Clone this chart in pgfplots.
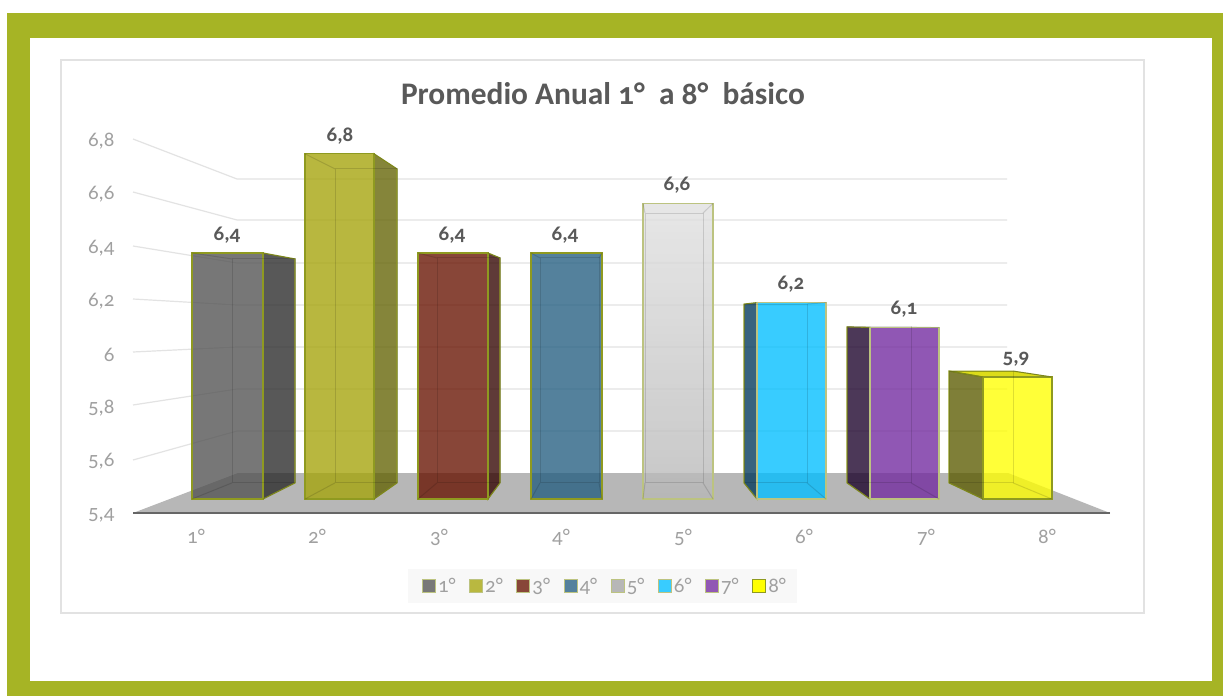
\documentclass[border=0pt]{standalone}
\usepackage{fontspec}
\setmainfont[Numbers=OldStyle]{Carlito}
\usepackage{pgfplots}
\pgfplotsset{compat=1.18}

\definecolor{framegreen}{HTML}{A6B425}
\definecolor{chartborder}{HTML}{E2E2E2}
\definecolor{gridc}{HTML}{E3E3E3}
\definecolor{floorc}{HTML}{B7B7B7}
\definecolor{axisdark}{HTML}{666666}
\definecolor{ticktext}{HTML}{A0A0A0}
\definecolor{labeltext}{HTML}{595959}
\definecolor{edgec}{HTML}{8F9A20}
\definecolor{edgelight}{HTML}{BCC380}
\definecolor{legbg}{HTML}{F8F8F8}
% fronts are drawn at opacity 0.78 so the floor shows through
\definecolor{c1}{RGB}{82,82,82}
\definecolor{c2}{RGB}{165,164,10}
\definecolor{c3}{RGB}{103,18,0}
\definecolor{c4}{RGB}{36,94,129}
\definecolor{c6}{RGB}{0,190,255}
\definecolor{c7}{RGB}{114,41,159}
\definecolor{c8}{RGB}{255,255,0}
\definecolor{s1}{RGB}{42,42,42}
\definecolor{s2}{RGB}{99,99,3}
\definecolor{s3}{RGB}{50,3,0}
\definecolor{s6}{RGB}{0,56,91}
\definecolor{s7}{RGB}{26,0,42}
\definecolor{s8}{RGB}{91,91,0}

% #1 fill options, #2 edge colour, #3 xL, #4 xR, #5 value, #6 back xL, #7 back xR, #8 back top
\newcommand{\barbox}[8]{
  \addplot[#1,fill opacity=0.78,draw=#2,line width=1.2bp,forget plot]
    coordinates {(#3,5.408) (#4,5.408) (#4,#5) (#3,#5)} --cycle;
  \addplot[draw=black,draw opacity=0.13,line width=1bp,forget plot]
    coordinates {(#6,5.473) (#7,5.473) (#7,#8) (#6,#8)} --cycle;
  \addplot[draw=black,draw opacity=0.13,line width=1bp,forget plot]
    coordinates {(#3,#5) (#6,#8)};
  \addplot[draw=black,draw opacity=0.13,line width=1bp,forget plot]
    coordinates {(#4,#5) (#7,#8)};
  \addplot[draw=black,draw opacity=0.13,line width=1bp,forget plot]
    coordinates {(#3,5.408) (#6,5.473)};
  \addplot[draw=black,draw opacity=0.13,line width=1bp,forget plot]
    coordinates {(#4,5.408) (#7,5.473)};
}
% #1 colour, #2 edge, #3 front x, #4 back x, #5 value, #6 back top
\newcommand{\sideface}[6]{
  \addplot[fill=#1,fill opacity=0.78,draw=#2,line width=1.1bp,forget plot]
    coordinates {(#3,5.408) (#4,5.473) (#4,#6) (#3,#5)} --cycle;
}

\begin{document}
\begin{tikzpicture}
% page, frame, floor and the perspective grid, in pixels of the picture
\begin{axis}[
    name=base,
    scale only axis,
    width=1223bp,
    height=696bp,
    xmin=0, xmax=1223,
    ymin=0, ymax=696,
    y dir=reverse,
    hide axis,
]
\addplot[fill=white,draw=none] coordinates {(0,0) (1223,0) (1223,696) (0,696)} --cycle;
\addplot[fill=framegreen,draw=none] coordinates {(7,13) (1223,13) (1223,696) (7,696)} --cycle;
\addplot[fill=white,draw=none] coordinates {(30,38) (1212,38) (1212,681) (30,681)} --cycle;
\addplot[draw=chartborder,line width=1.4bp] coordinates {(61,60) (1144,60) (1144,613) (61,613)} --cycle;
\addplot[fill=floorc,draw=none] coordinates {(133,513) (1110,513) (1008,473) (238,473)} --cycle;
\addplot[draw=gridc,line width=1.2bp] coordinates {(133,139) (237,179) (1007,179)};
\addplot[draw=gridc,line width=1.2bp] coordinates {(133,192) (237,220) (1007,220)};
\addplot[draw=gridc,line width=1.2bp] coordinates {(133,246) (237,263) (1007,263)};
\addplot[draw=gridc,line width=1.2bp] coordinates {(133,299) (237,305) (1007,305)};
\addplot[draw=gridc,line width=1.2bp] coordinates {(133,352) (237,347) (1007,347)};
\addplot[draw=gridc,line width=1.2bp] coordinates {(133,405) (237,389) (1007,389)};
\addplot[draw=gridc,line width=1.2bp] coordinates {(133,460) (237,431) (1007,431)};
\addplot[fill=legbg,draw=none] coordinates {(408,569) (797,569) (797,603) (408,603)} --cycle;
\end{axis}

% the axis that carries the tick labels
\begin{axis}[
    scale only axis,
    at={(133bp,183bp)},
    anchor=south west,
    width=977bp,
    height=374bp,
    xmin=133, xmax=1110,
    ymin=5.4, ymax=6.8,
    axis x line=bottom,
    axis y line=left,
    x axis line style={-,draw=axisdark,line width=2.6bp},
    y axis line style={-,draw=none},
    major tick length=0pt,
    xtick={196,317,439,561,683,804,926,1047},
    xticklabels={1°,2°,3°,4°,5°,6°,7°,8°},
    ytick={5.4,5.6,5.8,6,6.2,6.4,6.6,6.8},
    tick label style={font=\fontsize{21}{23}\selectfont,text=ticktext},
    xticklabel style={yshift=-13bp},
    yticklabel style={xshift=-15bp,yshift=-2bp},
    /pgf/number format/.cd,use comma,fixed,assume math mode=true,
]
\addplot[draw=none,forget plot] coordinates {(133,5.4) (1110,5.4)};
\end{axis}

% bars, with y in the chart's own values
\begin{axis}[
    scale only axis,
    at={(0bp,0bp)},
    anchor=south west,
    width=1223bp,
    height=696bp,
    xmin=0, xmax=1223,
    ymin=4.6137, ymax=7.4202,
    axis lines=none,
    legend style={
        at={(605bp,110bp)},
        anchor=center,
        draw=none,
        fill=none,
        font=\fontsize{21}{23}\selectfont\color{ticktext},
        legend columns=8,
        /tikz/every even column/.append style={column sep=11.5bp},
        inner sep=0pt,
    },
    legend image code/.code={\draw[#1,line width=1bp] (0bp,-6.5bp) rectangle (13bp,6.5bp);},
]
\addlegendimage{fill=c1!78,draw=edgelight}
\addlegendimage{fill=c2!78,draw=edgelight}
\addlegendimage{fill=c3!78,draw=edgelight}
\addlegendimage{fill=c4!78,draw=edgelight}
\addlegendimage{fill=floorc,draw=edgelight}
\addlegendimage{fill=c6!78,draw=edgelight}
\addlegendimage{fill=c7!78,draw=edgelight}
\addlegendimage{fill=c8,draw=edgec}

\sideface{s1}{edgec}{263}{295}{6.4}{6.376}
\barbox{fill=c1}{edgec}{192}{263}{6.4}{232}{295}{6.376}

\sideface{s2}{edgec}{374}{397}{6.8}{6.739}
\barbox{fill=c2}{edgec}{305}{374}{6.8}{335}{397}{6.739}

\sideface{s3}{edgec}{488}{500}{6.4}{6.380}
\barbox{fill=c3}{edgec}{418}{488}{6.4}{437}{500}{6.380}

\barbox{fill=c4}{edgec}{531}{602}{6.4}{540}{599}{6.380}

\barbox{top color=white!88!black,bottom color=white!72!black}{edgelight}{643}{713}{6.6}{645}{703}{6.561}

\sideface{s6}{edgec}{757}{744}{6.2}{6.194}
\barbox{fill=c6}{edgelight}{757}{826}{6.2}{744}{807}{6.194}

\sideface{s7}{edgec}{870}{847}{6.1}{6.102}
\barbox{fill=c7}{edgelight}{870}{939}{6.1}{847}{911}{6.102}

\addplot[fill=c8!85!black,fill opacity=0.9,draw=edgec,line width=1bp,forget plot]
  coordinates {(983,5.9) (1052,5.9) (1013,5.924) (949,5.924)} --cycle;
\sideface{s8}{edgec}{983}{949}{5.9}{5.924}
\barbox{fill=c8}{edgec}{983}{1052}{5.9}{949}{1013}{5.924}

% value labels, 18 px above the tops
\addplot[draw=none,mark=none,forget plot,
    nodes near coords,
    point meta=explicit symbolic,
    every node near coord/.append style={anchor=center,inner sep=0pt,
        font=\fontsize{21}{23}\selectfont\bfseries,text=labeltext},
] coordinates {
    (227,6.473)[6,4]
    (340,6.873)[6,8]
    (452,6.473)[6,4]
    (565,6.473)[6,4]
    (677,6.673)[6,6]
    (791,6.273)[6,2]
    (904,6.173)[6,1]
    (1016,5.973)[5,9]
};
\legend{1°,2°,3°,4°,5°,6°,7°,8°}
\node[font=\fontsize{31.5}{34}\selectfont\bfseries,text=labeltext,anchor=center]
    at (rel axis cs:0.4930,0.8649) {Promedio Anual 1°\ \ a 8°\ \ básico};
\end{axis}
\end{tikzpicture}
\end{document}
